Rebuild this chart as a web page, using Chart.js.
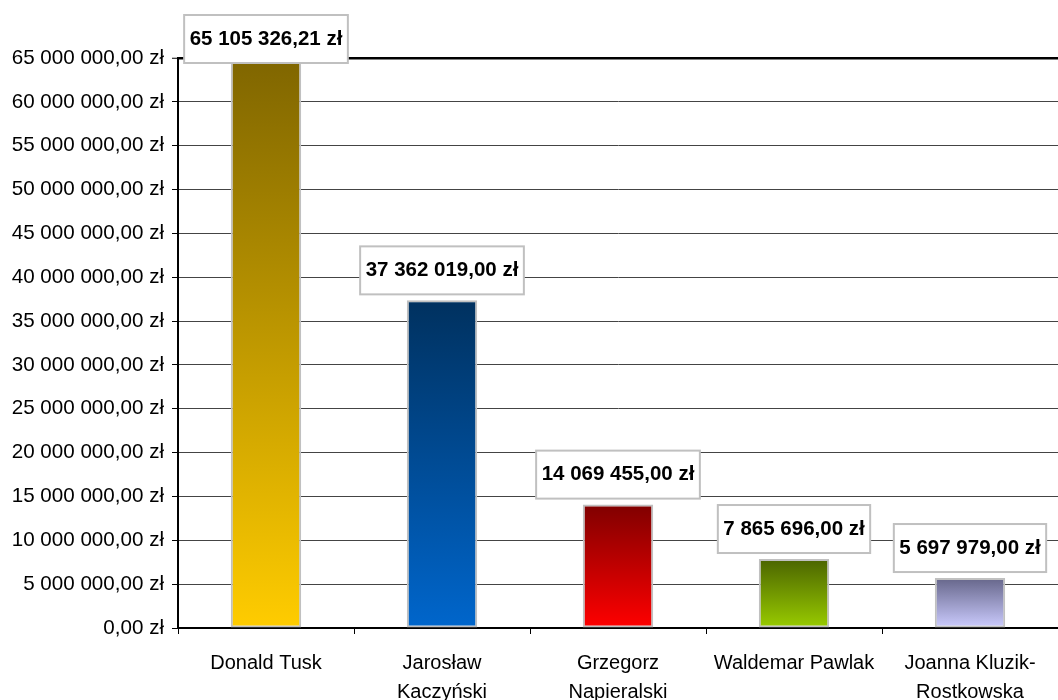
<!DOCTYPE html>
<html lang="pl">
<head>
<meta charset="utf-8">
<title>Wydatki komitetów</title>
<script src="https://cdn.jsdelivr.net/npm/chart.js@4/dist/chart.umd.min.js"></script>
<style>
  html, body { margin: 0; padding: 0; background: #fff; }
  #wrap { width: 1058px; height: 700px; }
</style>
</head>
<body>
<div id="wrap"><canvas id="kwotyChart" width="1058" height="700"></canvas></div>
<script>
// Kandydaci i kwoty (zł)
const kandydaci = [
    'Donald Tusk',
    ['Jarosław', 'Kaczyński'],
    ['Grzegorz', 'Napieralski'],
    'Waldemar Pawlak',
    ['Joanna Kluzik-', 'Rostkowska']
];
const kwoty = [65105326.21, 37362019.00, 14069455.00, 7865696.00, 5697979.00];

// Kolory gradientu słupków: góra -> dół
const koloryGora = ['#7f6500', '#00315f', '#800000', '#4b6400', '#66668a'];
const koloryDol = ['#ffcc00', '#0066cc', '#ff0000', '#99cc00', '#ccccff'];

const osY = { min: 0, max: 65000000, krok: 5000000 };

// 65000000 -> "65 000 000,00 zł"
function formatZl(v) {
    const [calk, dzies] = v.toFixed(2).split('.');
    return calk.replace(/\B(?=(\d{3})+(?!\d))/g, ' ') + ',' + dzies + ' zł';
}

function gradientSlupka(context) {
    const chart = context.chart;
    const i = context.dataIndex;
    if (!chart.chartArea || !chart.scales.y) return koloryDol[i];
    const y = chart.scales.y;
    const g = chart.ctx.createLinearGradient(0, y.getPixelForValue(kwoty[i]), 0, y.getPixelForValue(0));
    g.addColorStop(0, koloryGora[i]);
    g.addColorStop(1, koloryDol[i]);
    return g;
}

// Etykiety z wartością w białych ramkach nad słupkami
const etykietyWartosci = {
    id: 'etykietyWartosci',
    afterDatasetsDraw(chart) {
        const ctx = chart.ctx;
        const meta = chart.getDatasetMeta(0);
        ctx.save();
        ctx.font = 'bold 20.5px "Liberation Sans", Arial, sans-serif';
        ctx.textAlign = 'center';
        ctx.textBaseline = 'middle';
        meta.data.forEach((bar, i) => {
            const tekst = formatZl(kwoty[i]);
            const w = ctx.measureText(tekst).width + 11;
            const h = 48;
            let top = bar.y - 6 - h;
            if (top < 15) top = 15;
            const left = bar.x - w / 2;
            ctx.fillStyle = '#fff';
            ctx.fillRect(left, top, w, h);
            ctx.strokeStyle = '#c0c0c0';
            ctx.lineWidth = 2;
            ctx.strokeRect(left, top, w, h);
            ctx.fillStyle = '#000';
            ctx.fillText(tekst, bar.x, top + h / 2);
        });
        ctx.restore();
    }
};

document.addEventListener('DOMContentLoaded', function() {
    const ctx = document.getElementById('kwotyChart').getContext('2d');
    new Chart(ctx, {
        type: 'bar',
        data: {
            labels: kandydaci,
            datasets: [{
                data: kwoty,
                backgroundColor: gradientSlupka,
                borderColor: '#c0c0c0',
                borderWidth: 2,
                borderSkipped: false,
                categoryPercentage: 1,
                barPercentage: 0.4
            }]
        },
        options: {
            responsive: false,
            animation: false,
            layout: { padding: { top: 58, right: 0, left: 0, bottom: 0 } },
            plugins: {
                legend: { display: false },
                tooltip: { enabled: false }
            },
            scales: {
                x: {
                    grid: {
                        offset: true,
                        drawOnChartArea: false,
                        drawTicks: true,
                        tickLength: 6,
                        tickColor: '#000',
                        tickWidth: 1
                    },
                    border: { color: '#000', width: 2 },
                    ticks: {
                        color: '#000',
                        padding: 15,
                        maxRotation: 0,
                        autoSkip: false,
                        font: { family: '"Liberation Sans", Arial, sans-serif', size: 20, lineHeight: 1.45 }
                    },
                    afterFit(scale) { scale.height = 72; }
                },
                y: {
                    min: osY.min,
                    max: osY.max,
                    grid: {
                        color: c => c.tick && c.tick.value === osY.max ? '#000' : '#444',
                        lineWidth: c => c.tick && c.tick.value === osY.max ? 2.5 : 1,
                        tickLength: 6,
                        tickColor: '#000',
                        tickWidth: 1
                    },
                    border: { color: '#000', width: 2 },
                    ticks: {
                        stepSize: osY.krok,
                        color: '#000',
                        padding: 8,
                        font: { family: '"Liberation Sans", Arial, sans-serif', size: 20.6 },
                        callback: v => formatZl(v)
                    },
                    afterFit(scale) { scale.width = 178; }
                }
            }
        },
        plugins: [etykietyWartosci]
    });
});
</script>
</body>
</html>
